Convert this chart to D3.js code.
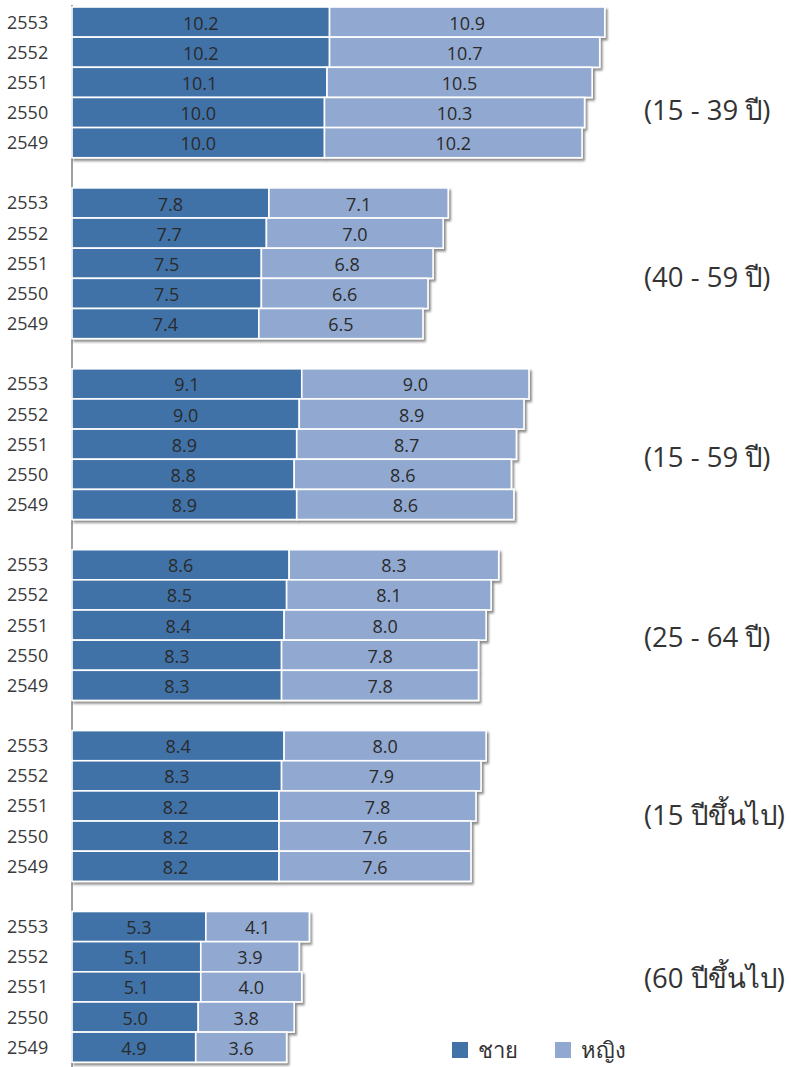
<!DOCTYPE html>
<html><head><meta charset="utf-8">
<script src="https://cdn.jsdelivr.net/npm/d3@7"></script>
<style>body{margin:0;background:#fff}svg{display:block}</style>
</head><body>
<script>
const years = ["2553","2552","2551","2550","2549"];
const groups = ["(15 - 39 ปี)","(40 - 59 ปี)","(15 - 59 ปี)","(25 - 64 ปี)","(15 ปีขึ้นไป)","(60 ปีขึ้นไป)"];
const male = [
  [10.2,10.2,10.1,10.0,10.0],
  [7.8,7.7,7.5,7.5,7.4],
  [9.1,9.0,8.9,8.8,8.9],
  [8.6,8.5,8.4,8.3,8.3],
  [8.4,8.3,8.2,8.2,8.2],
  [5.3,5.1,5.1,5.0,4.9]
];
const female = [
  [10.9,10.7,10.5,10.3,10.2],
  [7.1,7.0,6.8,6.6,6.5],
  [9.0,8.9,8.7,8.6,8.6],
  [8.3,8.1,8.0,7.8,7.8],
  [8.0,7.9,7.8,7.6,7.6],
  [4.1,3.9,4.0,3.8,3.6]
];
const seriesNames = ["ชาย","หญิง"];
const colors = ["#4172a8","#91a9d0"];

const W = 791, H = 1067;
const svg = d3.select("body").append("svg").attr("width", W).attr("height", H);
const defs = svg.append("defs");
const f = defs.append("filter").attr("id","sh").attr("x","-5%").attr("y","-20%").attr("width","120%").attr("height","160%");
f.append("feDropShadow").attr("dx",2).attr("dy",2.5).attr("stdDeviation",1.3).attr("flood-color","#000").attr("flood-opacity",0.45);

const slots = [];
groups.forEach((g,gi)=>{ years.forEach((y,yi)=>slots.push(gi+"-"+yi)); slots.push(gi+"-gap"); });
const y = d3.scaleBand().domain(slots).range([7, 7 + slots.length*30.15]).padding(0);
const x = d3.scaleLinear().domain([0, 28]).range([72, 72 + 28*25.25]);

const font = "'Open Sans', 'Noto Sans', sans-serif";

svg.append("line").attr("x1",72).attr("x2",72).attr("y1",5).attr("y2",H).attr("stroke","#a0a0a0").attr("stroke-width",2);

groups.forEach((g,gi)=>{
  const gg = svg.append("g").attr("filter","url(#sh)");
  years.forEach((yr,yi)=>{
    const key = gi+"-"+yi;
    const m = male[gi][yi], fe = female[gi][yi];
    const segs = [[0,m,0],[m,m+fe,1]];
    segs.forEach(([a,b,s])=>{
      gg.append("rect").attr("x",x(a)).attr("y",y(key)).attr("width",x(b)-x(a)).attr("height",y.bandwidth())
        .attr("fill",colors[s]).attr("stroke","#fff").attr("stroke-width",1.6);
    });
  });
  years.forEach((yr,yi)=>{
    const key = gi+"-"+yi;
    const m = male[gi][yi], fe = female[gi][yi];
    const cy = y(key) + y.bandwidth()/2;
    svg.append("text").attr("x",7).attr("y",cy).attr("dy","0.36em").attr("font-family",font).attr("font-size",18).attr("fill","#3a3a3a").text(yr);
    svg.append("text").attr("x",(x(0)+x(m))/2).attr("y",cy).attr("dy","0.42em").attr("text-anchor","middle").attr("font-family",font).attr("font-size",18).attr("fill","#2a2a2a").text(m.toFixed(1));
    svg.append("text").attr("x",(x(m)+x(m+fe))/2).attr("y",cy).attr("dy","0.42em").attr("text-anchor","middle").attr("font-family",font).attr("font-size",18).attr("fill","#2a2a2a").text(fe.toFixed(1));
  });
});

const labelY = [110, 277, 457, 637, 815, 978];
groups.forEach((g,gi)=>{
  svg.append("text").attr("x",644).attr("y",labelY[gi]).attr("dy","0.35em").attr("font-family",font).attr("font-size",27.5).attr("fill","#333").text(g);
});

const lg = svg.append("g");
const lx = [452, 555];
seriesNames.forEach((n,i)=>{
  lg.append("rect").attr("x",lx[i]).attr("y",1042).attr("width",16).attr("height",16).attr("fill",colors[i]);
  lg.append("text").attr("x",lx[i]+26).attr("y",1050).attr("dy","0.36em").attr("font-family",font).attr("font-size",22).attr("fill","#333").text(n);
});
</script>
</body></html>
